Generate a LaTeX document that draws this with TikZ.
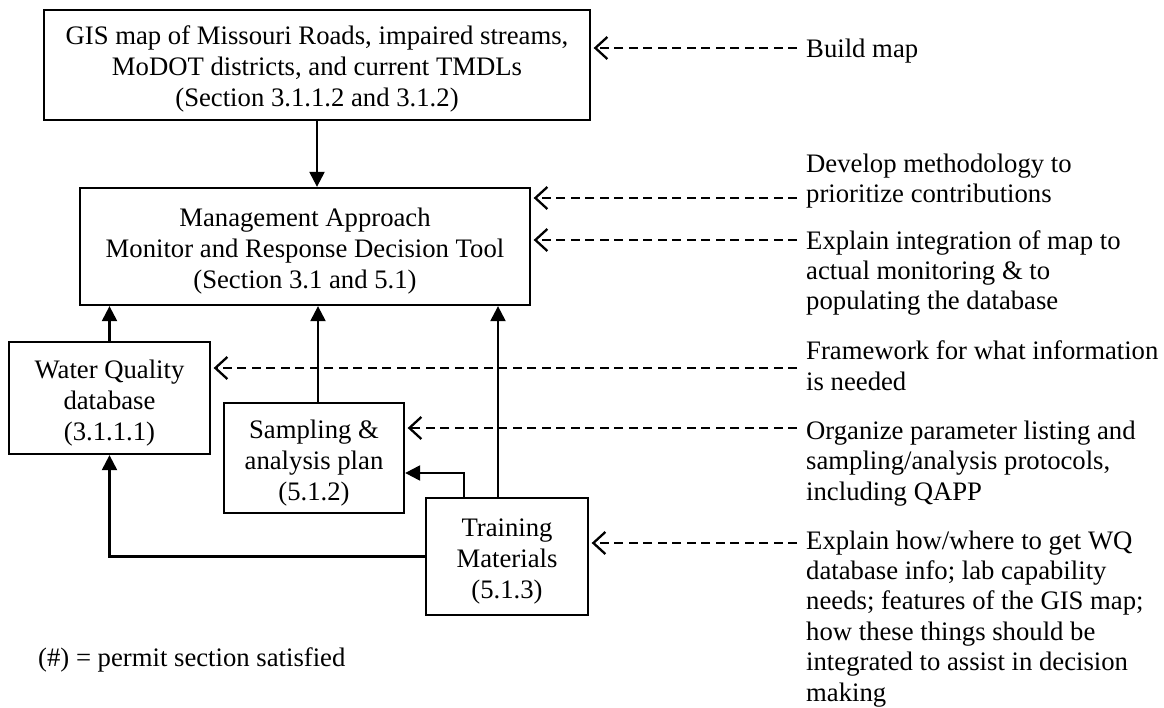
\documentclass[tikz,border=0pt]{standalone}
\usepackage{fontspec}
\setmainfont{Liberation Serif}
\usetikzlibrary{arrows.meta}
\newcommand\topst{\rule{0pt}{30pt}}
\newcommand\botst{\rule[-8pt]{0pt}{8pt}}
\begin{document}
\begin{tikzpicture}[x=1pt,y=-1pt,
  txt/.style={font=\fontsize{26.7}{30.4}\selectfont, inner sep=0pt},
  box/.style={font=\fontsize{26.7}{31}\selectfont, inner sep=0pt, draw, line width=2.3pt, align=center},
  lbl/.style={txt, align=left, anchor=base west},
  solidarrow/.style={line width=2.3pt, -{Triangle[length=15pt,width=15pt]}},
  dasharrow/.style={line width=2.3pt, dash pattern=on 9pt off 5.5pt, -{Straight Barb[length=12pt,width=22pt,line width=2.3pt]}, shorten >=2.5pt}
]
\fill[white] (0,0) rectangle (1164,708);
\useasboundingbox (0,0) rectangle (1164,708);

% boxes
\node[box, minimum width=546pt, minimum height=110pt] (gis) at (317,65)
  {\topst GIS map of Missouri Roads, impaired streams,\\MoDOT districts, and current TMDLs\\(Section 3.1.1.2 and 3.1.2)\botst};
\node[box, minimum width=450pt, minimum height=117pt] (mgmt) at (305,246.5)
  {\topst Management Approach\\Monitor and Response Decision Tool\\(Section 3.1 and 5.1)\botst};
\node[box, minimum width=201pt, minimum height=112pt] (wq) at (109.5,398)
  {\topst Water Quality\\database\\(3.1.1.1)\botst};
\node[box, minimum width=180pt, minimum height=110pt] (samp) at (314,458)
  {\topst Sampling \&\\analysis plan\\(5.1.2)\botst};
\node[box, minimum width=162pt, minimum height=117pt] (train) at (507,556.5)
  {\topst Training\\Materials\\(5.1.3)\botst};

% solid connectors
\draw[solidarrow] (gis.south) -- (gis.south |- mgmt.north);
\draw[solidarrow] (wq.north) -- (wq.north |- mgmt.south);
\draw[solidarrow] ([xshift=4pt]samp.north) -- ([xshift=4pt]samp.north |- mgmt.south);
\draw[solidarrow] ([xshift=-9pt]train.north) -- ([xshift=-9pt]train.north |- mgmt.south);
\draw[solidarrow] ([xshift=-43pt]train.north) |- ([yshift=-15pt]samp.east);
\draw[solidarrow] (train.west) -| (wq.south);

% labels (base anchor = baseline of last line)
\node[lbl] (l1) at (806,58) {Build map};
\node[lbl] (l2) at (806,203) {Develop methodology to\\prioritize contributions};
\node[lbl] (l3) at (806,310) {Explain integration of map to\\actual monitoring \& to\\populating the database};
\node[lbl] (l4) at (806,390) {Framework for what information\\is needed};
\node[lbl] (l5) at (806,500) {Organize parameter listing and\\sampling/analysis protocols,\\including QAPP};
\node[lbl] (l6) at (806,701) {Explain how/where to get WQ\\database info; lab capability\\needs; features of the GIS map;\\how these things should be\\integrated to assist in decision\\making};
\node[lbl] (legend) at (38,666) {(\#) = permit section satisfied};

% dashed connectors
\coordinate (d1) at (797,48);
\coordinate (d2) at (797,198);
\coordinate (d3) at (797,240);
\coordinate (d4) at (797,368);
\coordinate (d5) at (797,428);
\coordinate (d6) at (797,543);
\draw[dasharrow] (d1) -- (gis.east |- d1);
\draw[dasharrow] (d2) -- (mgmt.east |- d2);
\draw[dasharrow] (d3) -- (mgmt.east |- d3);
\draw[dasharrow] (d4) -- (wq.east |- d4);
\draw[dasharrow] (d5) -- (samp.east |- d5);
\draw[dasharrow] (d6) -- (train.east |- d6);
\end{tikzpicture}
\end{document}
